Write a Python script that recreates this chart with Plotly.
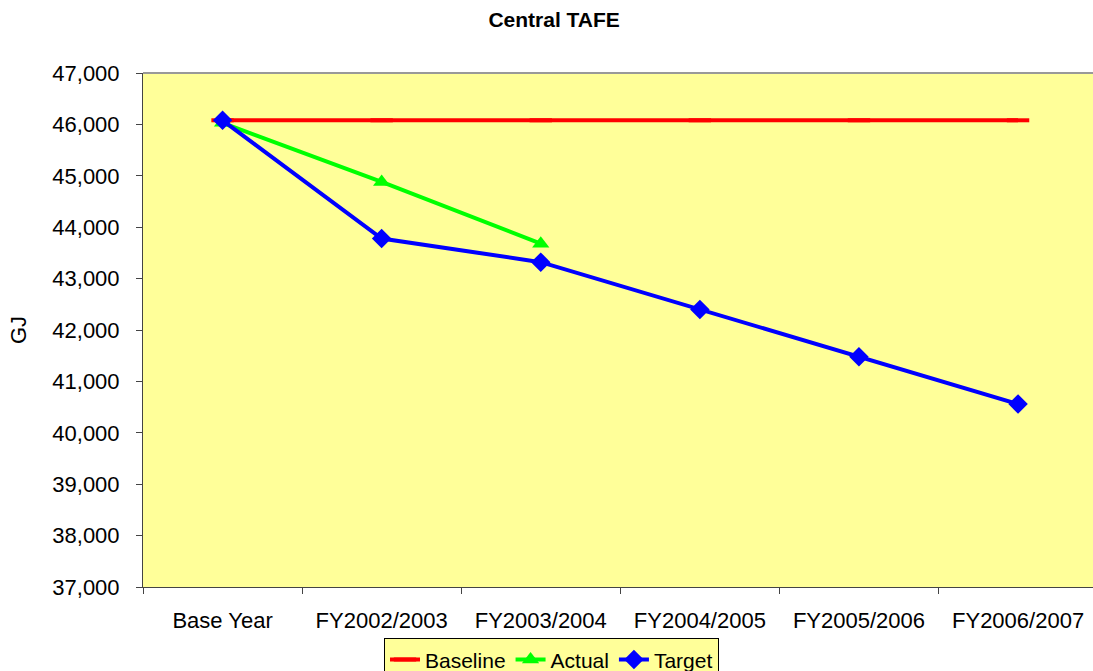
import plotly.graph_objects as go

categories = ["Base Year", "FY2002/2003", "FY2003/2004", "FY2004/2005", "FY2005/2006", "FY2006/2007"]
baseline = [46080, 46080, 46080, 46080, 46080, 46080]
actual = [46030, 44880, 43680]
target = [46080, 43780, 43320, 42400, 41480, 40560]
y_ticks = [37000, 38000, 39000, 40000, 41000, 42000, 43000, 44000, 45000, 46000, 47000]

fig = go.Figure()
fig.add_trace(go.Scatter(x=categories, y=baseline, name="Baseline", mode="lines+markers",
                         line=dict(color="#FF0000", width=4),
                         marker=dict(symbol="line-ew", size=16, line=dict(color="#FF0000", width=4))))
fig.add_trace(go.Scatter(x=categories[:len(actual)], y=actual, name="Actual", mode="lines+markers",
                         line=dict(color="#00FF00", width=4),
                         marker=dict(symbol="triangle-up", size=15, color="#00FF00")))
fig.add_trace(go.Scatter(x=categories, y=target, name="Target", mode="lines+markers",
                         line=dict(color="#0000FF", width=4),
                         marker=dict(symbol="diamond", size=15, color="#0000FF")))

font_family = "Liberation Sans, Arial, sans-serif"
fig.update_layout(
    width=1093, height=671,
    margin=dict(l=143, r=0, t=73, b=84, autoexpand=False),
    paper_bgcolor="white", plot_bgcolor="#FFFF99",
    font=dict(family=font_family, size=22, color="black"),
    title=dict(text="<b>Central TAFE</b>", x=0.507, xanchor="center", y=0.97, yanchor="middle",
               font=dict(size=21, family=font_family)),
    showlegend=True,
    legend=dict(orientation="h", x=0.43, xanchor="center", y=-0.1, yanchor="top",
                bgcolor="#FFFF99", bordercolor="black", borderwidth=1,
                font=dict(size=21), itemwidth=30, tracegroupgap=0),
    xaxis=dict(type="category", range=[-0.5, 5.471], showgrid=False,
               showline=True, linecolor="#444444", linewidth=1,
               ticks="outside", tickson="boundaries", ticklen=6, tickcolor="#444444",
               tickfont=dict(size=22), ticklabelstandoff=14),
    yaxis=dict(range=[37000, 47000], tickvals=y_ticks, tickformat=",", showgrid=False,
               showline=True, linecolor="#444444", linewidth=1, zeroline=False,
               ticks="outside", ticklen=6, tickcolor="#444444", tickfont=dict(size=22),
               ticklabelstandoff=12,
               title=dict(text="GJ", font=dict(size=22), standoff=19)),
)
fig.add_shape(type="line", xref="paper", yref="paper", x0=0, x1=1, y0=1, y1=1,
              line=dict(color="#999999", width=2))
fig.write_html("out.html")
